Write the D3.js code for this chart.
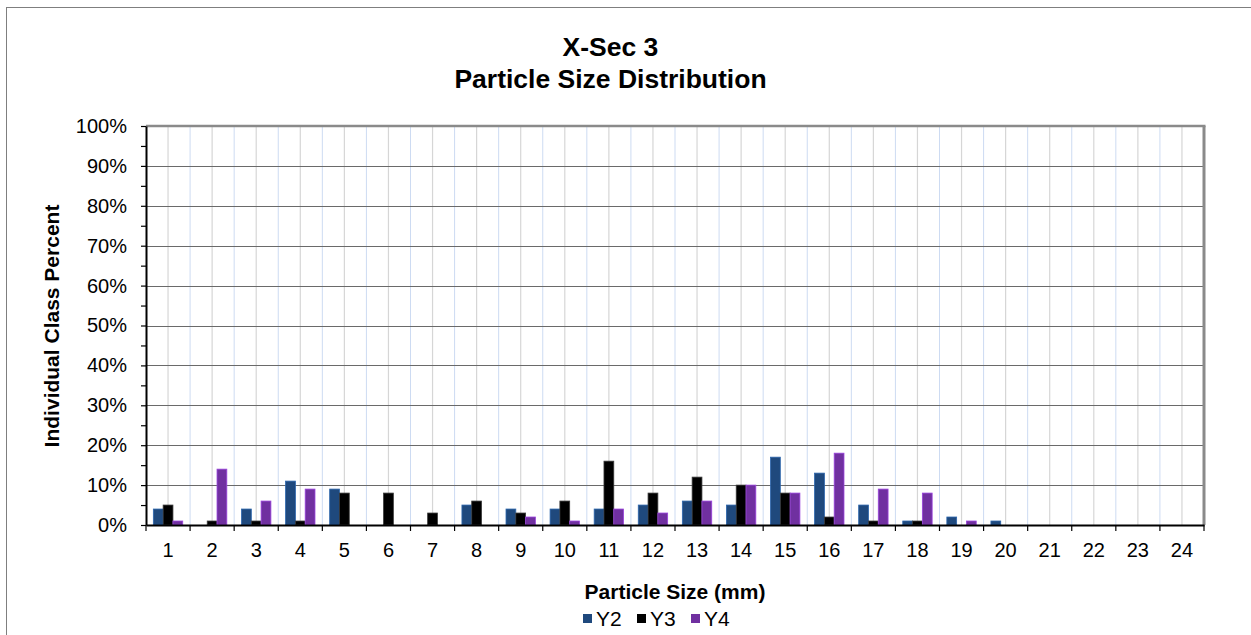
<!DOCTYPE html>
<html>
<head>
<meta charset="utf-8">
<script src="https://cdn.jsdelivr.net/npm/d3@7"></script>
<style>
  html, body { margin: 0; padding: 0; background: #fff; }
  svg { display: block; font-family: "Liberation Sans", Arial, sans-serif; }
</style>
</head>
<body>
<svg id="chart" width="1251" height="635"></svg>
<script>
// Particle size classes (mm) and per-survey class percentages
const categories = ["1","2","3","4","5","6","7","8","9","10","11","12","13","14","15","16","17","18","19","20","21","22","23","24"];
const seriesNames = ["Y2", "Y3", "Y4"];
const y2Values = [4, 0, 4, 11, 9, 0, 0, 5, 4, 4, 4, 5, 6, 5, 17, 13, 5, 1, 2, 1, 0, 0, 0, 0];
const y3Values = [5, 1, 1, 1, 8, 8, 3, 6, 3, 6, 16, 8, 12, 10, 8, 2, 1, 1, 0, 0, 0, 0, 0, 0];
const y4Values = [1, 14, 6, 9, 0, 0, 0, 0, 2, 1, 4, 3, 6, 10, 8, 18, 9, 8, 1, 0, 0, 0, 0, 0];
const seriesColors = ["#1F497D", "#000000", "#7030A0"];
const yTicks = [0, 10, 20, 30, 40, 50, 60, 70, 80, 90, 100];
const yMinorTicks = [5, 15, 25, 35, 45, 55, 65, 75, 85, 95];

const seriesValues = [y2Values, y3Values, y4Values];
const rows = categories.map((c, i) => ({
  cat: c,
  vals: seriesNames.map((s, k) => ({ series: s, value: seriesValues[k][i], color: seriesColors[k] }))
}));

const svg = d3.select("#chart");
const plot = { left: 146, right: 1204, top: 126, bottom: 525 };

// Chart area frame
svg.append("rect")
  .attr("x", 6.5).attr("y", 7.5)
  .attr("width", 1400).attr("height", 800)
  .attr("fill", "#fff").attr("stroke", "#7f7f7f").attr("stroke-width", 1);

const x = d3.scaleBand().domain(categories).range([plot.left, plot.right]).paddingInner(0).paddingOuter(0);
const bw = x.bandwidth();
const xInner = d3.scaleBand().domain(seriesNames).range([bw / 6, bw * 5 / 6]).padding(0);
const y = d3.scaleLinear().domain([0, 100]).range([plot.bottom, plot.top]);

const g = svg.append("g");

// Vertical gridlines: grey at class centres, pale blue at class boundaries
g.append("g").selectAll("line").data(categories).join("line")
  .attr("x1", d => x(d) + bw / 2).attr("x2", d => x(d) + bw / 2)
  .attr("y1", plot.top).attr("y2", plot.bottom)
  .attr("stroke", "#d6d6d6").attr("stroke-width", 1.2);
g.append("g").selectAll("line").data(categories.slice(1)).join("line")
  .attr("x1", d => x(d)).attr("x2", d => x(d))
  .attr("y1", plot.top).attr("y2", plot.bottom)
  .attr("stroke", "#cddbf2").attr("stroke-width", 1);

// Horizontal gridlines
g.append("g").selectAll("line").data(yTicks.filter(t => t > 0 && t < 100)).join("line")
  .attr("x1", plot.left).attr("x2", plot.right)
  .attr("y1", d => Math.round(y(d)) + 0.5).attr("y2", d => Math.round(y(d)) + 0.5)
  .attr("stroke", "#6a6a6a").attr("stroke-width", 1);

// Plot area top and right border
g.append("line").attr("x1", plot.left).attr("x2", plot.right + 1.5)
  .attr("y1", plot.top).attr("y2", plot.top)
  .attr("stroke", "#8a8a8a").attr("stroke-width", 2.5);
g.append("line").attr("x1", plot.right).attr("x2", plot.right)
  .attr("y1", plot.top).attr("y2", plot.bottom)
  .attr("stroke", "#8a8a8a").attr("stroke-width", 3);

// Bars
const groups = g.append("g").selectAll("g").data(rows).join("g")
  .attr("transform", d => `translate(${x(d.cat)},0)`);
groups.selectAll("rect").data(d => d.vals.filter(v => v.value > 0)).join("rect")
  .attr("x", d => xInner(d.series))
  .attr("width", xInner.bandwidth())
  .attr("y", d => y(d.value))
  .attr("height", d => y(0) - y(d.value))
  .attr("fill", d => d.color)
  .attr("stroke", d => d.series === "Y3" ? "#3a3a3a" : d3.color(d.color).brighter(0.9))
  .attr("stroke-width", 0.8);

// Y axis
const yAxis = d3.axisLeft(y).tickValues(yTicks).tickSize(5).tickSizeOuter(0).tickPadding(14)
  .tickFormat(d => d + "%");
const yg = svg.append("g").attr("transform", `translate(${plot.left},0)`).call(yAxis);
yg.select(".domain").attr("stroke", "#000").attr("stroke-width", 2);
yg.selectAll(".tick line").attr("stroke", "#000").attr("stroke-width", 1.2);
yg.selectAll(".tick text").attr("font-size", 20).attr("fill", "#000")
  .attr("font-family", "Liberation Sans, Arial, sans-serif");
const ymg = svg.append("g").attr("transform", `translate(${plot.left},0)`)
  .call(d3.axisLeft(y).tickValues(yMinorTicks).tickSize(5).tickFormat(""));
ymg.select(".domain").remove();
ymg.selectAll(".tick line").attr("stroke", "#000").attr("stroke-width", 1.2);

// X axis: labels at class centres, tick marks at class boundaries
const xAxis = d3.axisBottom(x).tickSize(0).tickSizeOuter(0).tickPadding(18);
const xg = svg.append("g").attr("transform", `translate(0,${plot.bottom})`).call(xAxis);
xg.select(".domain").attr("stroke", "#000").attr("stroke-width", 2);
xg.selectAll(".tick text").attr("font-size", 20).attr("fill", "#000")
  .attr("font-family", "Liberation Sans, Arial, sans-serif");
const bounds = categories.map(c => x(c)).concat([x(categories[categories.length - 1]) + bw]);
svg.append("g").selectAll("line").data(bounds).join("line")
  .attr("x1", d => d).attr("x2", d => d)
  .attr("y1", plot.bottom).attr("y2", plot.bottom + 6)
  .attr("stroke", "#000").attr("stroke-width", 1.2);

// Titles
const title = svg.append("text").attr("text-anchor", "middle")
  .attr("font-weight", "bold").attr("font-size", 26.5).attr("fill", "#000");
title.append("tspan").attr("x", 610.5).attr("y", 56).text("X-Sec 3");
title.append("tspan").attr("x", 610.5).attr("y", 88).text("Particle Size Distribution");

svg.append("text")
  .attr("transform", "translate(59,326) rotate(-90)")
  .attr("text-anchor", "middle").attr("font-weight", "bold").attr("font-size", 21)
  .text("Individual Class Percent");

svg.append("text")
  .attr("x", (plot.left + plot.right) / 2).attr("y", 599)
  .attr("text-anchor", "middle").attr("font-weight", "bold").attr("font-size", 21)
  .text("Particle Size (mm)");

// Legend
const legendX = [583, 637, 691];
const leg = svg.append("g").selectAll("g").data(seriesNames).join("g")
  .attr("transform", (d, i) => `translate(${legendX[i]},0)`);
leg.append("rect").attr("x", 0).attr("y", 614).attr("width", 9).attr("height", 9)
  .attr("fill", (d, i) => seriesColors[i]);
leg.append("text").attr("x", 13).attr("y", 626).attr("font-size", 21).text(d => d);
</script>
</body>
</html>
